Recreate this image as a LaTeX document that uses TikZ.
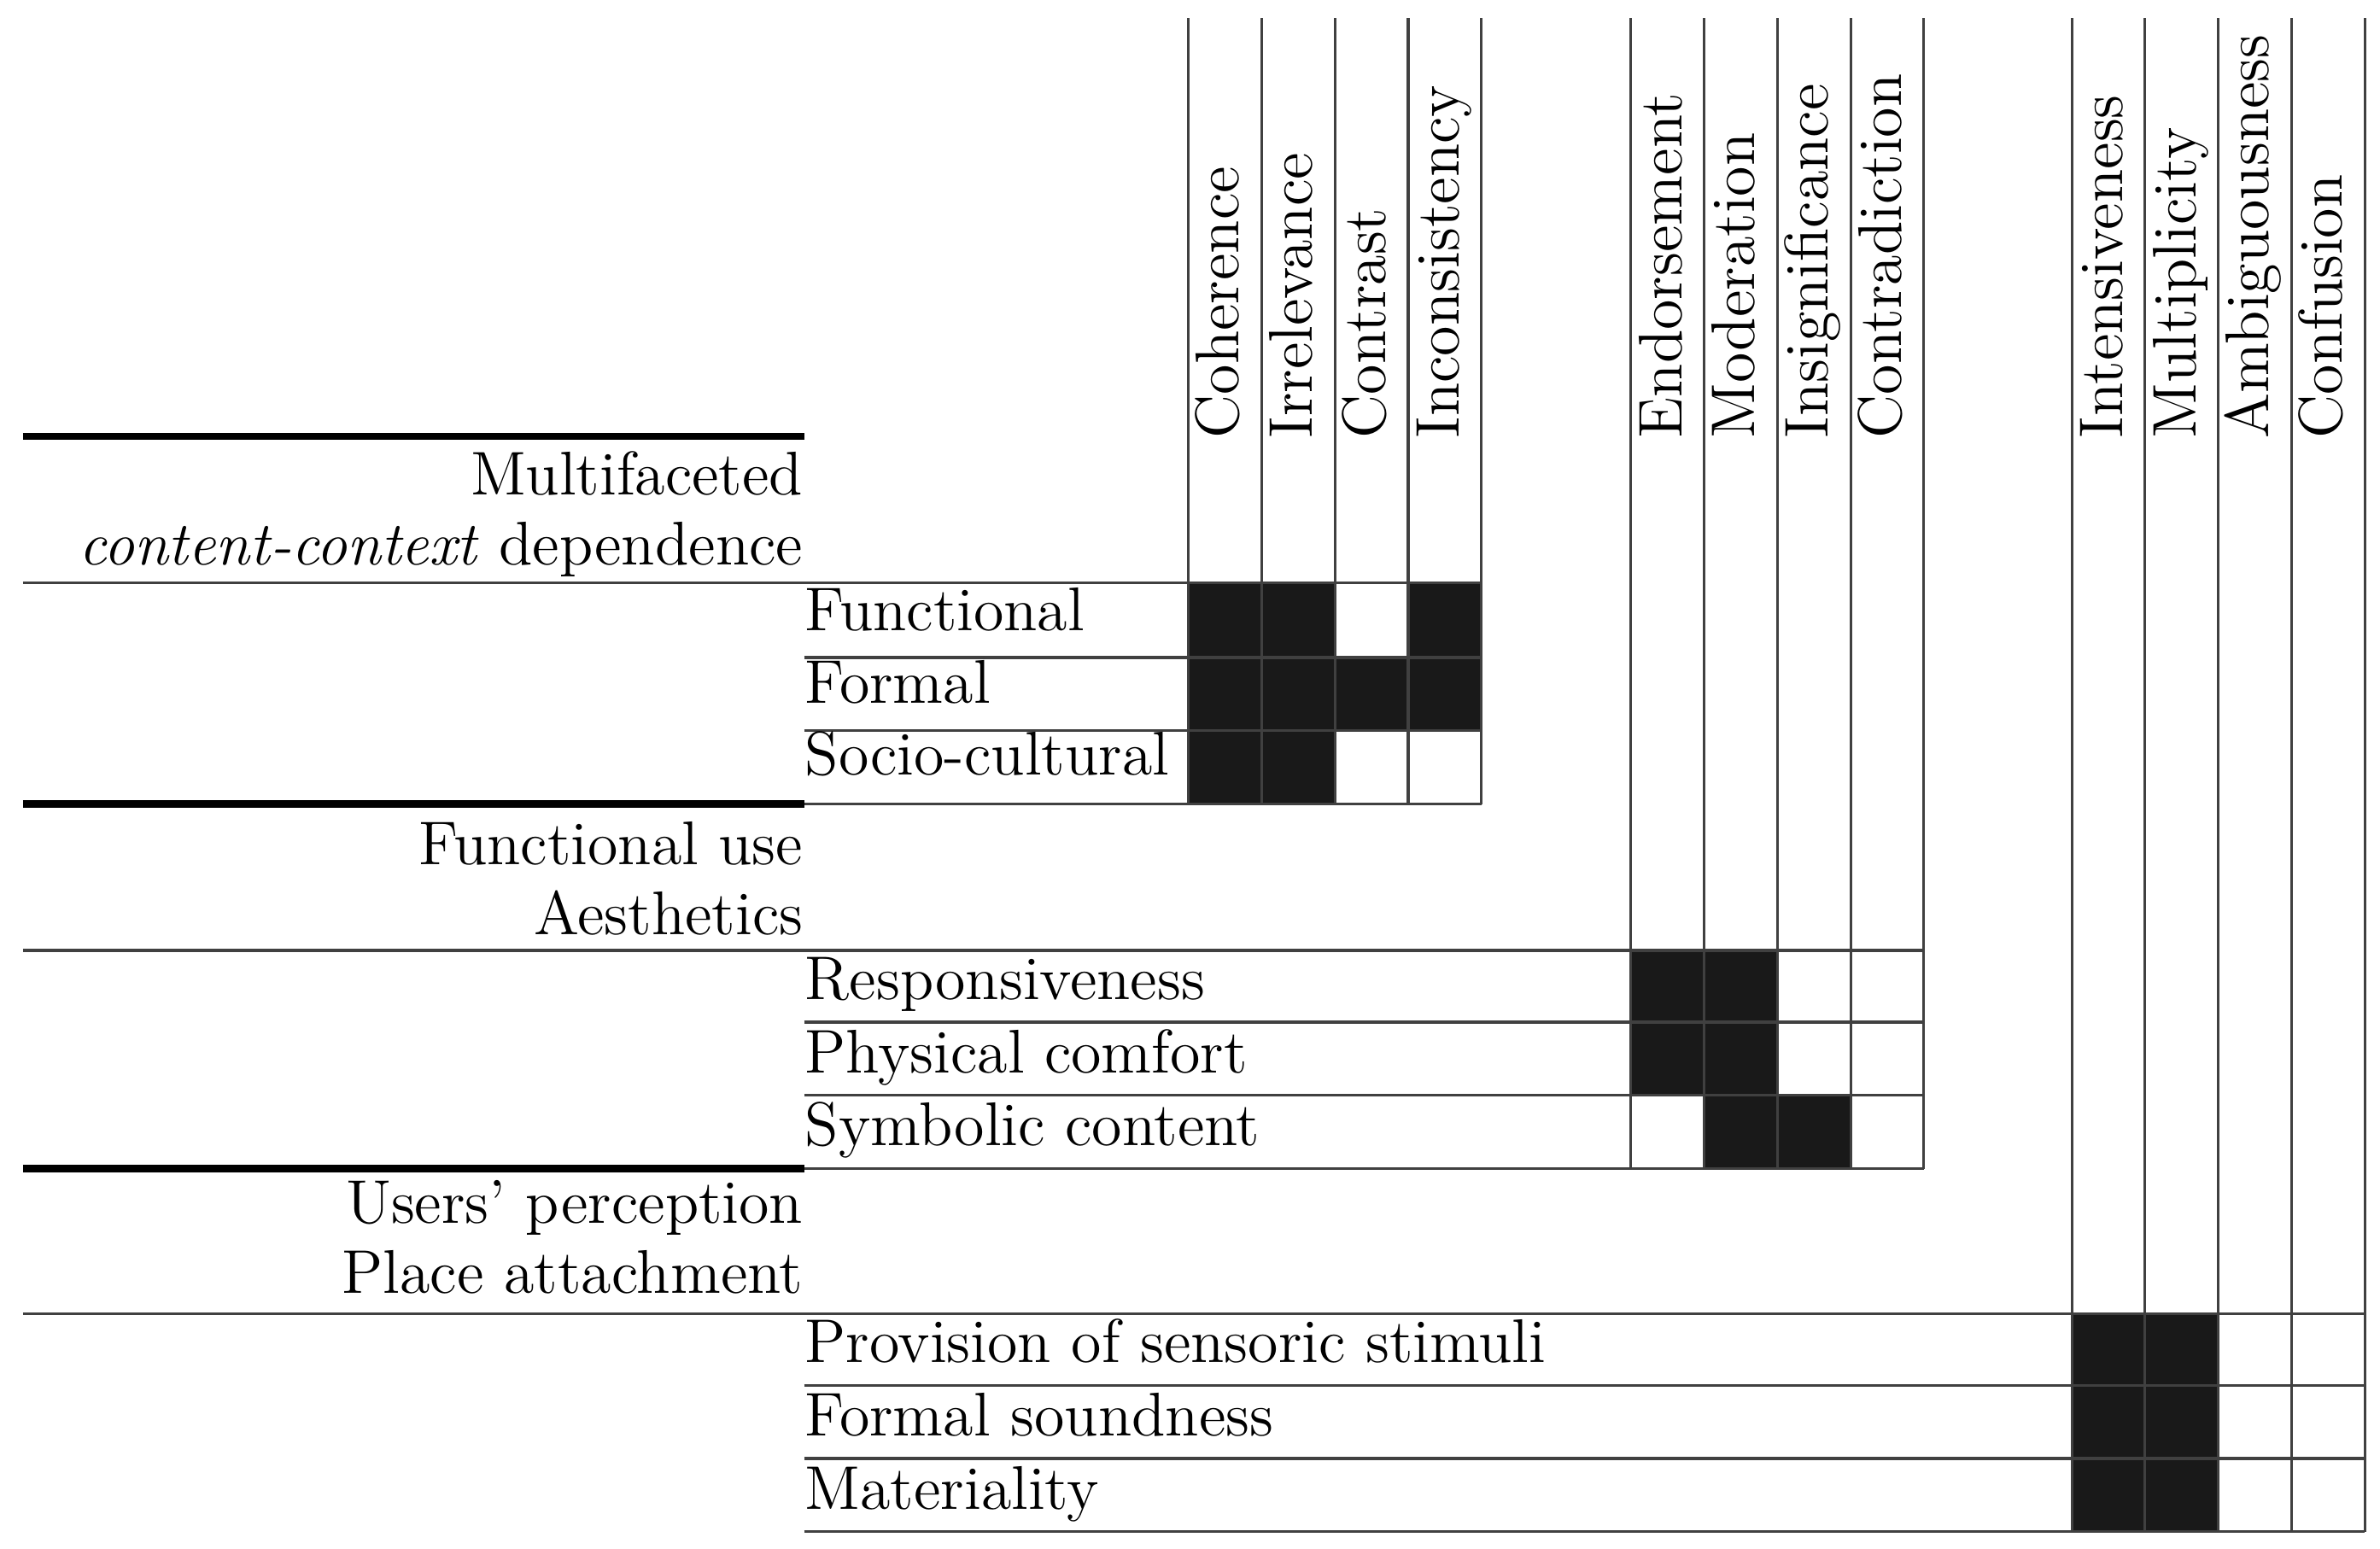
\documentclass[tikz,border=0pt]{standalone}
\usetikzlibrary{positioning}
\tikzset{
    x=0.01cm, y=-0.01cm,
    every node/.style={font=\fontsize{11.5}{13}\selectfont, inner sep=0pt},
    rowlab/.style={anchor=west},
    headlab/.style={anchor=east, align=right},
    collab/.style={rotate=90, anchor=west},
    thin line/.style={draw=black!75, line width=0.5pt},
    thick line/.style={draw=black, line width=1.4pt},
    hit/.style={fill=black!90}
}
\begin{document}
\begin{tikzpicture}
        \useasboundingbox (0,0) rectangle (1560,1015);
        % filled cells
        \foreach \c/\r in {0/0,1/0,3/0,0/1,1/1,2/1,3/1,0/2,1/2}
            \fill[hit] (779+48*\c,382+48.3*\r) rectangle ++(48,48.3);
        \foreach \c/\r in {0/0,1/0,0/1,1/1,1/2,2/2}
            \fill[hit] (1069+48*\c,623+47.7*\r) rectangle ++(48,47.7);
        \foreach \c/\r in {0/0,1/0,0/1,1/1,0/2,1/2}
            \fill[hit] (1358+48*\c,861+47.7*\r) rectangle ++(48,47.7);
        % vertical lines
        \foreach \x in {779,827,875,923,971}
            \draw[thin line] (\x,12) -- (\x,527);
        \foreach \x in {1069,1117,1165,1213,1261}
            \draw[thin line] (\x,12) -- (\x,766);
        \foreach \x in {1358,1406,1454,1502,1550}
            \draw[thin line] (\x,12) -- (\x,1004);
        % horizontal lines
        \draw[thick line] (15,286) -- (527,286);
        \draw[thin line] (15,382) -- (971,382);
        \draw[thin line] (527,431) -- (971,431) (527,479) -- (971,479) (527,527) -- (971,527);
        \draw[thick line] (15,527) -- (527,527);
        \draw[thin line] (15,623) -- (1261,623);
        \draw[thin line] (527,670) -- (1261,670) (527,718) -- (1261,718) (527,766) -- (1261,766);
        \draw[thick line] (15,766) -- (527,766);
        \draw[thin line] (15,861) -- (1550,861);
        \draw[thin line] (527,908) -- (1550,908) (527,956) -- (1550,956) (527,1004) -- (1550,1004);
        % column labels
        \foreach \x/\t [count=\i] in {803/Coherence,851/Irrelevance,899/Contrast,947/Inconsistency,
            1093/Endorsement,1141/Moderation,1189/Insignificance,1237/Contradiction,
            1382/Intensiveness,1430/Multiplicity,1478/Ambiguousness,1526/Confusion}
            \node[collab] (col\i) at (\x,288) {\strut\t};
        % row labels
        \foreach \y/\t [count=\i] in {404/Functional,452/Formal,499/Socio-cultural,
            646/Responsiveness,694/Physical comfort,742/Symbolic content,
            884/Provision of sensoric stimuli,932/Formal soundness,980/Materiality}
            \node[rowlab] (row\i) at (527,\y) {\strut\t};
        % group headings
        \node[headlab] (head1) at (527,337) {Multifaceted\\\textit{content-context} dependence};
        \node[headlab] (head2) at (527,576) {Functional use\\Aesthetics};
        \node[headlab] (head3) at (527,811) {Users' perception\\Place attachment};
\end{tikzpicture}
\end{document}
